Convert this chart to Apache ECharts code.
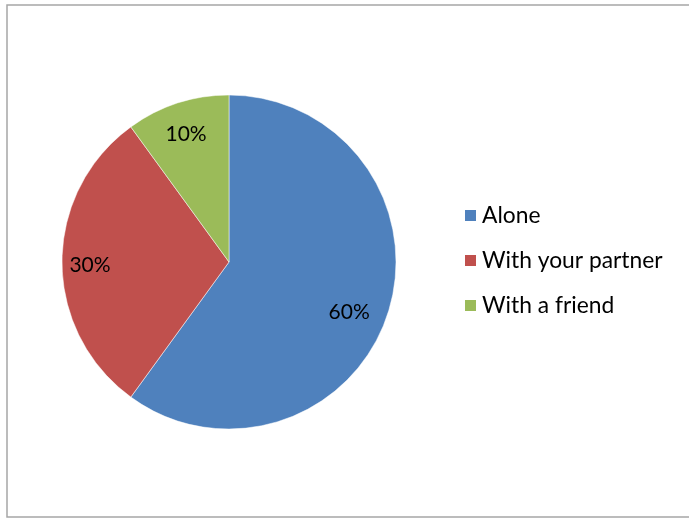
<!DOCTYPE html>
<html>
<head>
<meta charset="utf-8">
<script src="https://cdn.jsdelivr.net/npm/echarts@6/dist/echarts.min.js"></script>
<style>
html,body{margin:0;padding:0;background:#fff;}
#chart{width:689px;height:519px;}
</style>
</head>
<body>
<div id="chart"></div>
<script>
const categories = ['Alone', 'With your partner', 'With a friend'];
const values = [60, 30, 10];
const colors = ['#4F81BD', '#C0504D', '#9BBB59'];

const chart = echarts.init(document.getElementById('chart'), null, {renderer: 'canvas'});
const FONT = 'Lato';

const pieData = categories.map((c, i) => ({name: c, value: values[i], itemStyle: {color: colors[i]}}));
const labelOffsets = [[-12, 7], [0, 3], [0, 4]];
const labelData = categories.map((c, i) => ({
  name: c, value: values[i],
  itemStyle: {color: 'rgba(0,0,0,0)'},
  label: {offset: labelOffsets[i]}
}));

chart.setOption({
  animation: false,
  backgroundColor: '#fff',
  graphic: [{
    type: 'rect',
    shape: {x: 7, y: 5, width: 700, height: 512},
    style: {fill: 'none', stroke: '#A6A6A6', lineWidth: 1.5},
    z: 0
  }],
  legend: {
    orient: 'vertical',
    left: 458,
    top: 199,
    padding: 5,
    itemWidth: 13,
    itemHeight: 13,
    itemGap: 22,
    icon: 'rect',
    data: categories,
    textStyle: {fontFamily: FONT, fontSize: 22.8, color: '#000'}
  },
  series: [{
    type: 'pie',
    center: [229, 262],
    radius: [0, 167],
    startAngle: 90,
    clockwise: true,
    label: {show: false},
    labelLine: {show: false},
    itemStyle: {borderColor: '#fff', borderWidth: 0.5},
    data: pieData,
    silent: true
  }, {
    type: 'pie',
    center: [229, 262],
    radius: [105, 167],
    startAngle: 90,
    clockwise: true,
    silent: true,
    legendHoverLink: false,
    label: {
      show: true,
      position: 'inside',
      formatter: '{c}%',
      fontFamily: FONT,
      fontSize: 21,
      color: '#000'
    },
    labelLine: {show: false},
    data: labelData
  }]
});
</script>
</body>
</html>
